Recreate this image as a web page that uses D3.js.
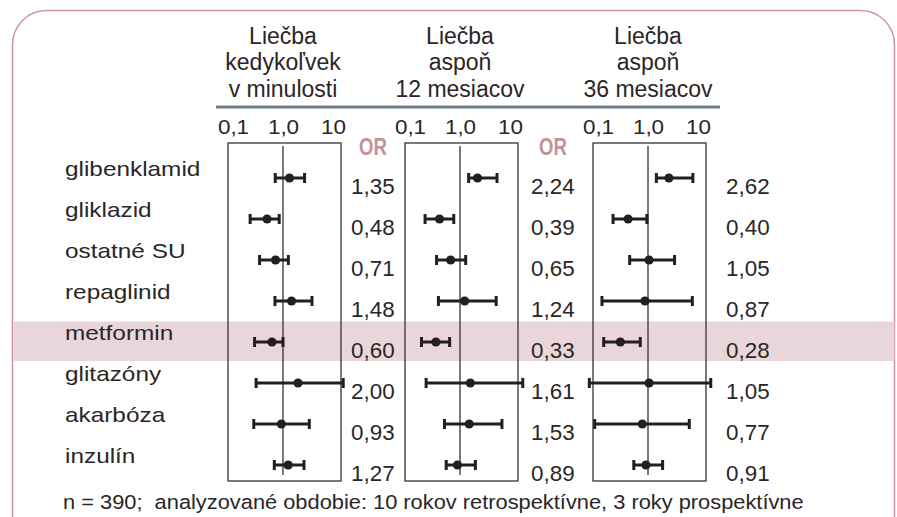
<!DOCTYPE html>
<html>
<head>
<meta charset="utf-8">
<script src="https://cdn.jsdelivr.net/npm/d3@7"></script>
<style>
  html, body { margin: 0; padding: 0; background: #ffffff; }
  svg { display: block; }
  text { font-family: "Liberation Sans", Arial, sans-serif; fill: #2a2627; }
</style>
</head>
<body>
<svg id="chart" width="897" height="517"></svg>
<script>
// Antidiabetic drugs (rows)
const drugs = ["glibenklamid", "gliklazid", "ostatné SU", "repaglinid",
               "metformin", "glitazóny", "akarbóza", "inzulín"];
const highlighted = "metformin";

// Treatment-duration groups (columns)
const periods = [
  ["Liečba", "kedykoľvek", "v minulosti"],
  ["Liečba", "aspoň", "12 mesiacov"],
  ["Liečba", "aspoň", "36 mesiacov"]
];

// Odds ratios with 95% confidence limits, one array per group
const orEver   = [1.35, 0.48, 0.71, 1.48, 0.60, 2.00, 0.93, 1.27];
const loEver   = [0.70, 0.22, 0.34, 0.69, 0.27, 0.29, 0.26, 0.67];
const hiEver   = [2.70, 0.84, 1.28, 3.80, 1.00, 16.0, 3.36, 2.63];

const or12m    = [2.24, 0.39, 0.65, 1.24, 0.33, 1.61, 1.53, 0.89];
const lo12m    = [1.49, 0.20, 0.34, 0.37, 0.17, 0.21, 0.49, 0.53];
const hi12m    = [5.50, 0.75, 1.30, 5.30, 0.62, 18.0, 6.90, 2.03];

const or36m    = [2.62, 0.40, 1.05, 0.87, 0.28, 1.05, 0.77, 0.91];
const lo36m    = [1.47, 0.20, 0.43, 0.12, 0.13, 0.067, 0.086, 0.52];
const hi36m    = [7.90, 0.95, 3.40, 7.70, 0.70, 18.0, 6.70, 1.96];

// Axis ticks
const tickValues = [0.1, 1, 10];
const tickLabels = ["0,1", "1,0", "10"];

const footnote = "n = 390;  analyzované obdobie: 10 rokov retrospektívne, 3 roky prospektívne";

// ---- layout ----
const panels = [
  { head: periods[0], or: orEver, lo: loEver, hi: hiEver, center: 283, valueX: 351, orLabel: true },
  { head: periods[1], or: or12m,  lo: lo12m,  hi: hi12m,  center: 460, valueX: 531, orLabel: true },
  { head: periods[2], or: or36m,  lo: lo36m,  hi: hi36m,  center: 648, valueX: 726, orLabel: false }
];
const decade = 50;            // px per factor of ten
const boxTop = 143, boxBottom = 481;
const ink = "#231f20";
const pink = "#c4909a";

const svg = d3.select("#chart");

// place a text element by transform, widening its glyphs by sx
function placeText(sel, fx, fy, sx) {
  sel.attr("transform", (d, i) => `translate(${fx(d, i)},${fy(d, i)}) scale(${sx},1)`)
     .attr("x", 0).attr("y", 0);
}

// outer rounded frame
svg.append("rect")
  .attr("x", 12.5).attr("y", 10.5)
  .attr("width", 882).attr("height", 560)
  .attr("rx", 34).attr("ry", 34)
  .attr("fill", "none")
  .attr("stroke", "#c8959f").attr("stroke-width", 1.5);

const y = d3.scalePoint().domain(drugs).range([178, 465]);

// highlight band behind metformin
svg.append("rect")
  .attr("x", 13.3).attr("width", 881)
  .attr("y", y(highlighted) - 20.5).attr("height", 39.5)
  .attr("fill", "#e9d6da");

// row labels
svg.append("g").selectAll("text")
  .data(drugs).join("text")
  .attr("font-size", 21)
  .text(d => d)
  .call(placeText, () => 65, d => y(d) - 2, 1.16);

// header rule
svg.append("line")
  .attr("x1", 216).attr("x2", 720)
  .attr("y1", 107).attr("y2", 107)
  .attr("stroke", "#6e7d87").attr("stroke-width", 3);

const fmt = v => v.toFixed(2).replace(".", ",");

panels.forEach(p => {
  const x = d3.scaleLog().domain([0.1, 10]).range([p.center - decade, p.center + decade]);
  const g = svg.append("g");

  // column heading
  g.append("g").selectAll("text")
    .data(p.head).join("text")
    .attr("x", p.center).attr("y", (d, i) => 44 + i * 26.4)
    .attr("text-anchor", "middle")
    .attr("font-size", 23)
    .text(d => d);

  // log axis labels
  const axis = d3.axisTop(x)
    .tickValues(tickValues)
    .tickFormat((d, i) => tickLabels[i])
    .tickSize(0).tickPadding(0);
  const ax = g.append("g").attr("transform", "translate(0,133.5)").call(axis);
  ax.select(".domain").remove();
  ax.selectAll("text")
    .attr("font-size", 21)
    .attr("font-family", "Liberation Sans, Arial, sans-serif")
    .attr("fill", "#2a2627")
    .attr("dy", 0)
    .attr("transform", "scale(1.07,1)");

  // panel box
  const bx0 = x(Math.pow(10, -1.1)), bx1 = x(Math.pow(10, 1.16));
  g.append("rect")
    .attr("x", bx0).attr("y", boxTop)
    .attr("width", bx1 - bx0).attr("height", boxBottom - boxTop)
    .attr("fill", "none").attr("stroke", "#333").attr("stroke-width", 1.3);

  // reference line at OR = 1
  g.append("line")
    .attr("x1", x(1)).attr("x2", x(1))
    .attr("y1", 146).attr("y2", 475)
    .attr("stroke", "#333").attr("stroke-width", 1.3);

  if (p.orLabel) {
    g.append("text")
      .attr("transform", `translate(${p.valueX + 8},155) scale(0.79,1)`)
      .attr("font-size", 23.5).attr("font-weight", "bold")
      .style("fill", pink)
      .text("OR");
  }

  const rows = drugs.map((d, i) => ({ drug: d, or: p.or[i], lo: p.lo[i], hi: p.hi[i] }));
  const r = g.append("g").selectAll("g").data(rows).join("g");

  r.append("line")
    .attr("x1", d => x(d.lo)).attr("x2", d => x(d.hi))
    .attr("y1", d => y(d.drug)).attr("y2", d => y(d.drug))
    .attr("stroke", ink).attr("stroke-width", 3);
  r.append("line")
    .attr("x1", d => x(d.lo)).attr("x2", d => x(d.lo))
    .attr("y1", d => y(d.drug) - 5).attr("y2", d => y(d.drug) + 5)
    .attr("stroke", ink).attr("stroke-width", 3);
  r.append("line")
    .attr("x1", d => x(d.hi)).attr("x2", d => x(d.hi))
    .attr("y1", d => y(d.drug) - 5).attr("y2", d => y(d.drug) + 5)
    .attr("stroke", ink).attr("stroke-width", 3);
  r.append("circle")
    .attr("cx", d => x(d.or)).attr("cy", d => y(d.drug))
    .attr("r", 4.6).attr("fill", ink);

  // OR values
  r.append("text")
    .attr("x", p.valueX).attr("y", d => y(d.drug) + 16)
    .attr("font-size", 22.4)
    .text(d => fmt(d.or));
});

// footnote
svg.append("text")
  .attr("font-size", 19.5)
  .style("white-space", "pre")
  .text(footnote)
  .call(placeText, () => 63, () => 509, 1.12);
</script>
</body>
</html>
